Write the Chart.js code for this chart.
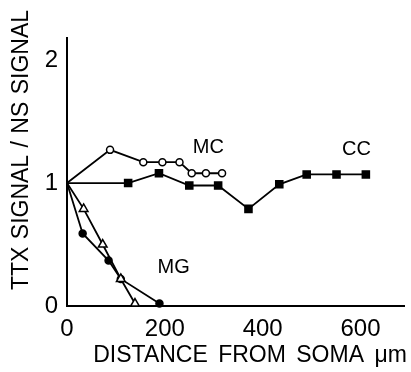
<!DOCTYPE html>
<html>
<head>
<meta charset="utf-8">
<script src="https://cdn.jsdelivr.net/npm/chart.js@4/dist/chart.umd.min.js"></script>
<style>
  html, body { margin: 0; padding: 0; background: #fff; }
</style>
</head>
<body>
<canvas id="chart" width="411" height="372"></canvas>
<script>
// distance from soma (um) and TTX/NS signal ratio
const mcDist = [0, 88, 156, 195, 230, 255, 284, 317];
const mcRatio = [1, 1.27, 1.17, 1.17, 1.17, 1.08, 1.08, 1.08];

const ccDist = [0, 125, 188, 250, 309, 371, 434, 490, 551, 611];
const ccRatio = [1, 1.0, 1.08, 0.98, 0.98, 0.79, 0.99, 1.07, 1.07, 1.07];

const mgTriDist = [0, 34, 73, 110, 139];
const mgTriRatio = [1, 0.79, 0.50, 0.22, 0.02];

const mgDotDist = [0, 32, 85, 110, 189];
const mgDotRatio = [1, 0.59, 0.37, 0.22, 0.02];

const xTicks = [0, 200, 400, 600];
const yTicks = [0, 1, 2];

const xTitle = 'DISTANCE FROM SOMA \u03bcm';
const yTitle = 'TTX SIGNAL / NS SIGNAL';

const FONT = '"Liberation Sans", Arial, Helvetica, sans-serif';

function toPoints(xs, ys) {
    return xs.map((x, i) => ({ x: x, y: ys[i] }));
}

// no marker on the shared starting point
function hideFirst(r) {
    return ctx => ctx.dataIndex === 0 ? 0 : r;
}

function series(label, xs, ys, style, radius, fill) {
    return {
        label: label,
        data: toPoints(xs, ys),
        borderColor: '#000',
        borderWidth: 1.8,
        pointStyle: style,
        pointRadius: hideFirst(radius),
        pointHoverRadius: hideFirst(radius),
        pointBackgroundColor: fill,
        pointBorderColor: '#000',
        pointBorderWidth: 1.5,
        tension: 0,
        fill: false,
        clip: false
    };
}

// curve names and the axis titles
const textPlugin = {
    id: 'figureText',
    afterDraw(chart) {
        const ctx = chart.ctx;
        const xs = chart.scales.x;
        const ys = chart.scales.y;
        ctx.save();
        ctx.fillStyle = '#000';
        ctx.textAlign = 'center';
        ctx.textBaseline = 'middle';

        ctx.font = '20px ' + FONT;
        ctx.fillText('MC', xs.getPixelForValue(289), ys.getPixelForValue(1.29));
        ctx.fillText('CC', xs.getPixelForValue(592), ys.getPixelForValue(1.27));
        ctx.fillText('MG', xs.getPixelForValue(218), ys.getPixelForValue(0.31));

        ctx.font = '23px ' + FONT;
        ctx.wordSpacing = '4px';
        ctx.fillText(xTitle, 250, 356);

        ctx.wordSpacing = '1px';
        ctx.translate(22, 150);
        ctx.rotate(-Math.PI / 2);
        ctx.fillText(yTitle, 0, 0);
        ctx.restore();
    }
};

const chart = new Chart(document.getElementById('chart'), {
    type: 'line',
    data: {
        datasets: [
            series('MC', mcDist, mcRatio, 'circle', 3.5, '#fff'),
            series('CC', ccDist, ccRatio, 'rect', 5, '#000'),
            series('MG triangles', mgTriDist, mgTriRatio, 'triangle', 5, '#fff'),
            series('MG', mgDotDist, mgDotRatio, 'circle', 3.5, '#000')
        ]
    },
    options: {
        responsive: false,
        animation: false,
        devicePixelRatio: 1,
        layout: {
            padding: { top: 38, right: 2, left: 0, bottom: 0 }
        },
        plugins: {
            legend: { display: false },
            tooltip: { enabled: false }
        },
        scales: {
            x: {
                type: 'linear',
                min: 0,
                max: 690,
                grid: { display: false, drawTicks: false },
                border: { display: true, color: '#000', width: 2 },
                afterBuildTicks: scale => {
                    scale.ticks = xTicks.map(v => ({ value: v }));
                },
                afterFit: scale => { scale.height = 66; },
                ticks: {
                    color: '#000',
                    padding: 9,
                    maxRotation: 0,
                    autoSkip: false,
                    font: { family: FONT, size: 24 }
                }
            },
            y: {
                type: 'linear',
                min: 0,
                max: 2.18,
                grid: { display: false, drawTicks: false },
                border: { display: true, color: '#000', width: 2 },
                afterBuildTicks: scale => {
                    scale.ticks = yTicks.map(v => ({ value: v }));
                },
                afterFit: scale => { scale.width = 67; },
                ticks: {
                    color: '#000',
                    padding: 9,
                    autoSkip: false,
                    font: { family: FONT, size: 24 }
                }
            }
        }
    },
    plugins: [textPlugin]
});
</script>
</body>
</html>
